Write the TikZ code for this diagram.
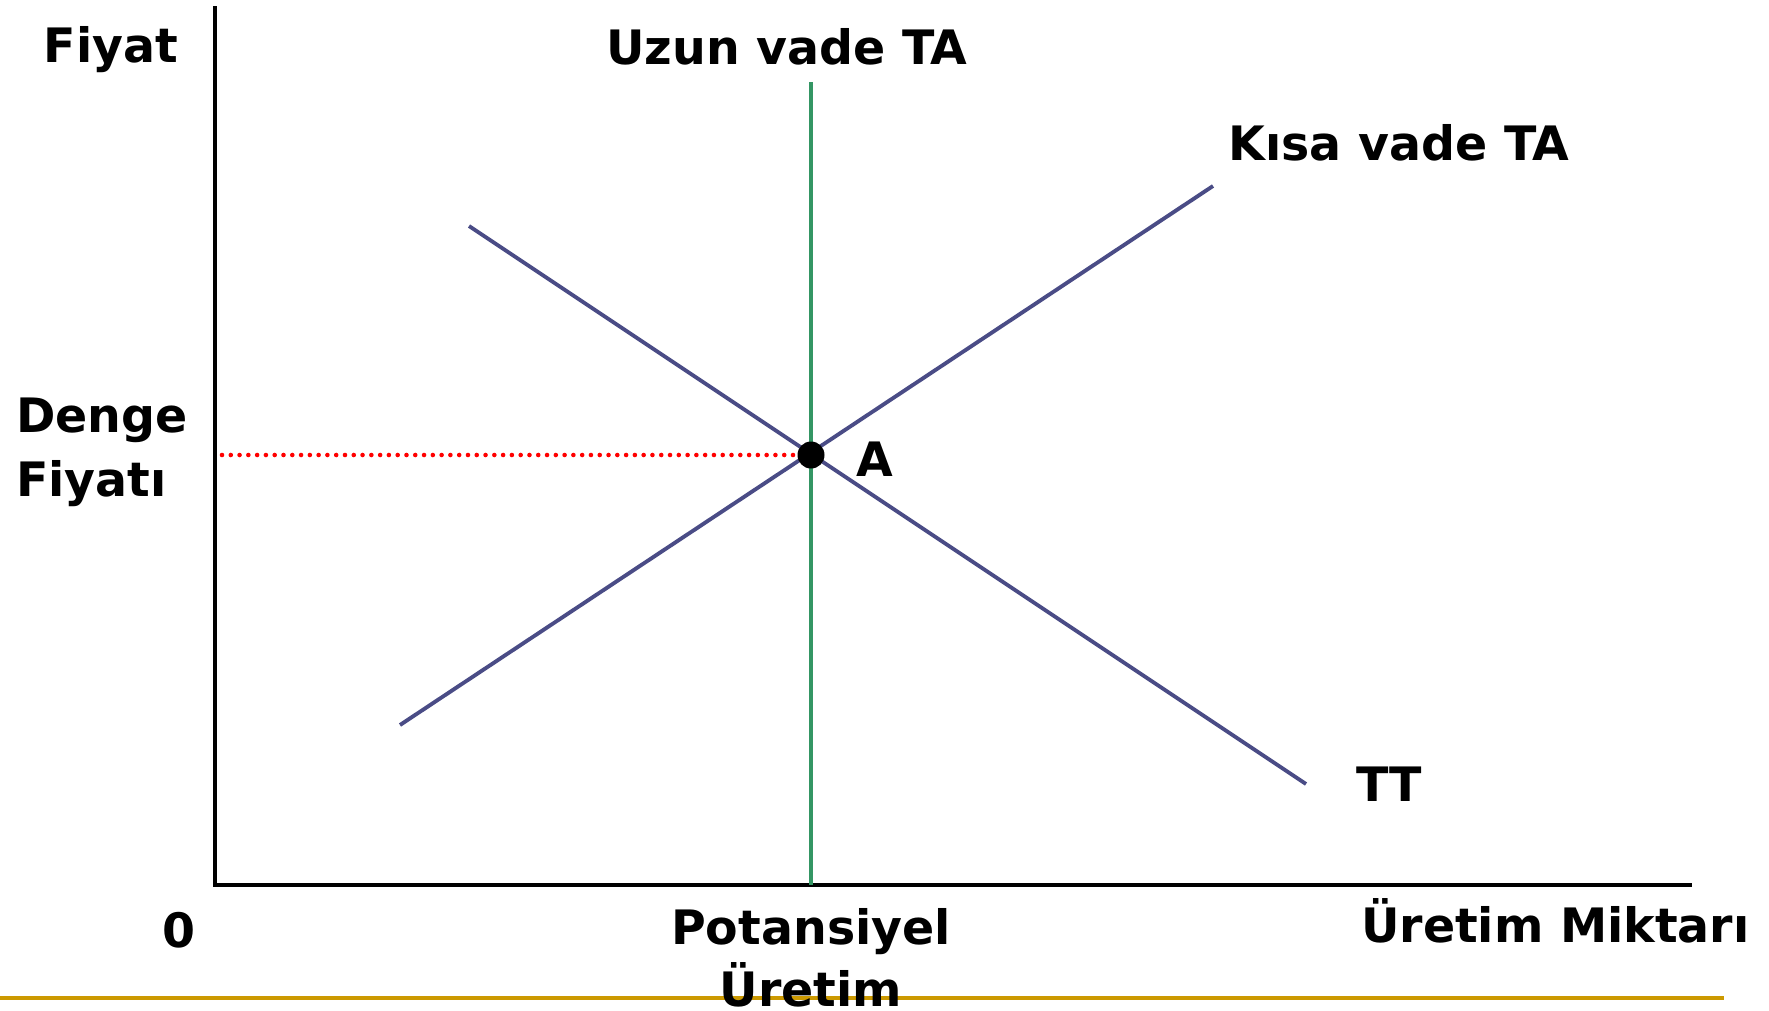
\documentclass[tikz,border=0pt]{standalone}
\usepackage{fontspec}
\setmainfont{DejaVu Sans}
\definecolor{curveblue}{RGB}{74,76,134}
\definecolor{longgreen}{RGB}{52,150,100}
\definecolor{rulegold}{RGB}{204,153,0}

\begin{document}
\begin{tikzpicture}[x=0.02cm,y=-0.02cm,
  lbl/.style={font=\fontsize{27}{33}\selectfont\bfseries},
  axis/.style={draw=black,line width=2.5pt},
  curve/.style={draw=curveblue,line width=2.2pt}]
  \useasboundingbox (0,0) rectangle (1769,1011);
  \draw[rulegold,line width=2.5pt] (0,998) -- (1724,998);
  \coordinate (O) at (215,885);
  \coordinate (ytop) at (215,6);
  \coordinate (xend) at (1692,885);
  \coordinate (tatop) at (811,82);
  \coordinate (tabot) at (811,885);
  \coordinate (ksa1) at (400,725);
  \coordinate (ksa2) at (1213,186);
  \coordinate (tt1) at (469,226);
  \coordinate (tt2) at (1306,784);
  \coordinate (pe) at (222,455);
  \draw[axis] (ytop) -- (O) -- (xend);
  \draw[longgreen,line width=2pt] (tatop) -- (tabot);
  \draw[curve] (ksa1) -- (ksa2);
  \draw[curve] (tt1) -- (tt2);
  \node[circle,fill=black,inner sep=0pt,minimum size=0.54cm] (A) at (811,455) {};
  \draw[red,line width=2.6pt,line cap=round,dash pattern=on 0pt off 5pt] (pe) -- (A.west);
  \node[lbl,anchor=base] (fiyat) at (111,62) {Fiyat};
  \node[lbl,anchor=base] (uzun) at (787,64) {Uzun vade TA};
  \node[lbl,anchor=base] (kisa) at (1399,160) {Kısa vade TA};
  \node[lbl,anchor=base west] (denge) at (10,432) {Denge};
  \node[lbl,anchor=base west] (dfiyat) at (10,496) {Fiyatı};
  \node[lbl,anchor=base west] (Alab) at (850,476) {A};
  \node[lbl,anchor=base] (tt) at (1389,801) {TT};
  \node[lbl,anchor=base] (zero) at (179,947) {0};
  \node[lbl,anchor=base] (pot) at (811,944) {Potansiyel};
  \node[lbl,anchor=base] (uret) at (811,1006) {Üretim};
  \node[lbl,anchor=base west] (miktar) at (1355,942) {Üretim Miktarı};
\end{tikzpicture}
\end{document}
